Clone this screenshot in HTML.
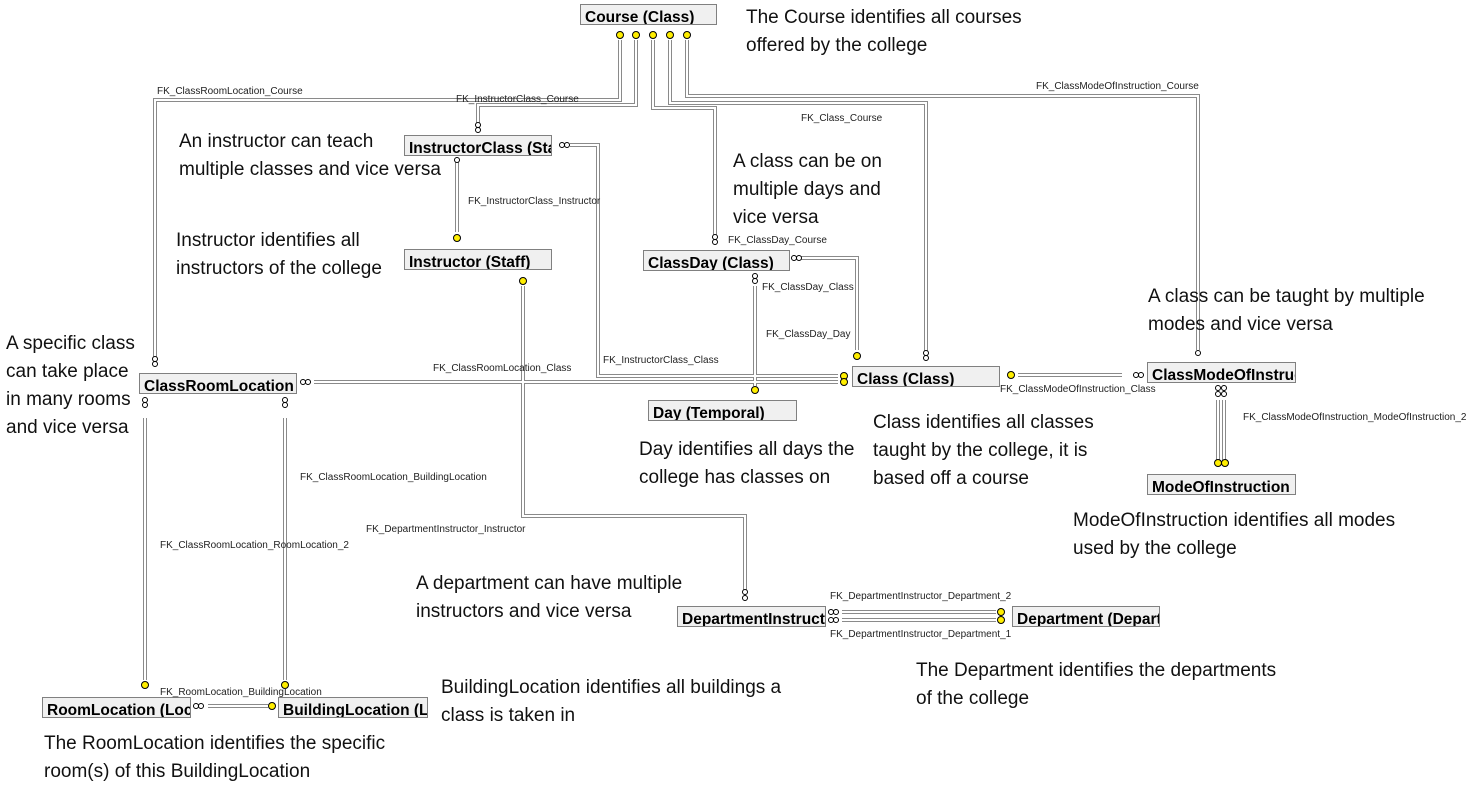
<!DOCTYPE html>
<html><head><meta charset="utf-8"><style>
body{margin:0;width:1470px;height:788px;background:#fff;overflow:hidden;position:relative;font-family:"Liberation Sans",sans-serif}
.t{position:absolute;background:#f0f0f0;border:1px solid #808080;overflow:hidden;font-weight:bold;font-size:15.5px;padding-left:4px;white-space:nowrap;box-sizing:border-box;height:21px;line-height:25px}
.a{position:absolute;font-size:19px;line-height:28px;color:#111;white-space:nowrap}
.l{position:absolute;font-size:10px;color:#222;white-space:nowrap}
svg{position:absolute;left:0;top:0}
</style></head><body>
<svg width="1470" height="788" shape-rendering="crispEdges">
<defs>
<g id="lines">
<polyline points="620,40 620,100 155,100 155,358"/>
<polyline points="636,40 636,105 478,105 478,128"/>
<polyline points="653,40 653,108 715,108 715,236"/>
<polyline points="670,40 670,103 926,103 926,352"/>
<polyline points="687,40 687,96 1198,96 1198,350"/>
<polyline points="570,145 598,145 598,376 838,376"/>
<polyline points="457,162 457,232"/>
<polyline points="523,286 523,516 745,516 745,590"/>
<polyline points="797,258 857,258 857,350"/>
<polyline points="755,286 755,386"/>
<polyline points="314,382 838,382"/>
<polyline points="1018,375 1122,375"/>
<polyline points="1218,400 1218,460"/>
<polyline points="1224,400 1224,460"/>
<polyline points="145,418 145,680"/>
<polyline points="285,418 285,680"/>
<polyline points="208,706 268,706"/>
<polyline points="842,612 996,612"/>
<polyline points="842,620 996,620"/>
</g>
</defs>
<use href="#lines" fill="none" stroke="#8a8a8a" stroke-width="4"/>
<use href="#lines" fill="none" stroke="#fff" stroke-width="2"/>
<g fill="#ffee00" stroke="#000" stroke-width="1" shape-rendering="auto">
<circle cx="620" cy="35" r="3.5"/><circle cx="636" cy="35" r="3.5"/><circle cx="653" cy="35" r="3.5"/><circle cx="670" cy="35" r="3.5"/><circle cx="687" cy="35" r="3.5"/>
<circle cx="457" cy="238" r="3.5"/><circle cx="523" cy="281" r="3.5"/><circle cx="857" cy="356" r="3.5"/>
<circle cx="844" cy="376" r="3.5"/><circle cx="844" cy="382" r="3.5"/><circle cx="755" cy="390" r="3.5"/>
<circle cx="1011" cy="375" r="3.5"/><circle cx="1218" cy="463" r="3.5"/><circle cx="1225" cy="463" r="3.5"/>
<circle cx="145" cy="685" r="3.5"/><circle cx="285" cy="685" r="3.5"/><circle cx="272" cy="706" r="3.5"/>
<circle cx="1001" cy="612" r="3.5"/><circle cx="1001" cy="620" r="3.5"/>
</g>
<g fill="#fff" stroke="#000" stroke-width="1" shape-rendering="auto">
<circle cx="478" cy="125" r="2.5"/><circle cx="478" cy="130" r="2.5"/>
<circle cx="715" cy="237" r="2.5"/><circle cx="715" cy="242" r="2.5"/>
<circle cx="926" cy="353" r="2.5"/><circle cx="926" cy="358" r="2.5"/>
<circle cx="1198" cy="353" r="2.5"/>
<circle cx="155" cy="359" r="2.5"/><circle cx="155" cy="364" r="2.5"/>
<circle cx="562" cy="145" r="2.5"/><circle cx="567" cy="145" r="2.5"/>
<circle cx="457" cy="160" r="2.5"/>
<circle cx="794" cy="258" r="2.5"/><circle cx="799" cy="258" r="2.5"/>
<circle cx="755" cy="276" r="2.5"/><circle cx="755" cy="281" r="2.5"/>
<circle cx="303" cy="382" r="2.5"/><circle cx="308" cy="382" r="2.5"/>
<circle cx="1136" cy="375" r="2.5"/><circle cx="1141" cy="375" r="2.5"/>
<circle cx="1218" cy="388" r="2.5"/><circle cx="1218" cy="394" r="2.5"/><circle cx="1224" cy="388" r="2.5"/><circle cx="1224" cy="394" r="2.5"/>
<circle cx="145" cy="400" r="2.5"/><circle cx="145" cy="405" r="2.5"/>
<circle cx="285" cy="400" r="2.5"/><circle cx="285" cy="405" r="2.5"/>
<circle cx="745" cy="592" r="2.5"/><circle cx="745" cy="598" r="2.5"/>
<circle cx="831" cy="612" r="2.5"/><circle cx="836" cy="612" r="2.5"/><circle cx="831" cy="620" r="2.5"/><circle cx="836" cy="620" r="2.5"/>
<circle cx="196" cy="706" r="2.5"/><circle cx="201" cy="706" r="2.5"/>
</g>
</svg>
<div class="t" style="left:580px;top:4px;width:137px">Course (Class)</div>
<div class="t" style="left:404px;top:135px;width:148px">InstructorClass (Staff)</div>
<div class="t" style="left:404px;top:249px;width:148px">Instructor (Staff)</div>
<div class="t" style="left:643px;top:250px;width:147px">ClassDay (Class)</div>
<div class="t" style="left:139px;top:373px;width:158px">ClassRoomLocation</div>
<div class="t" style="left:852px;top:366px;width:148px">Class (Class)</div>
<div class="t" style="left:648px;top:400px;width:149px">Day (Temporal)</div>
<div class="t" style="left:1147px;top:362px;width:149px">ClassModeOfInstruction</div>
<div class="t" style="left:1147px;top:474px;width:149px">ModeOfInstruction</div>
<div class="t" style="left:677px;top:606px;width:149px">DepartmentInstructor</div>
<div class="t" style="left:1012px;top:606px;width:148px">Department (Department)</div>
<div class="t" style="left:42px;top:697px;width:149px">RoomLocation (Location)</div>
<div class="t" style="left:278px;top:697px;width:150px">BuildingLocation (Location)</div>

<div class="l" style="left:157px;top:86px">FK_ClassRoomLocation_Course</div>
<div class="l" style="left:456px;top:94px">FK_InstructorClass_Course</div>
<div class="l" style="left:801px;top:113px">FK_Class_Course</div>
<div class="l" style="left:1036px;top:81px">FK_ClassModeOfInstruction_Course</div>
<div class="l" style="left:468px;top:196px">FK_InstructorClass_Instructor</div>
<div class="l" style="left:728px;top:235px">FK_ClassDay_Course</div>
<div class="l" style="left:762px;top:282px">FK_ClassDay_Class</div>
<div class="l" style="left:766px;top:329px">FK_ClassDay_Day</div>
<div class="l" style="left:603px;top:355px">FK_InstructorClass_Class</div>
<div class="l" style="left:433px;top:363px">FK_ClassRoomLocation_Class</div>
<div class="l" style="left:1000px;top:384px">FK_ClassModeOfInstruction_Class</div>
<div class="l" style="left:1243px;top:412px">FK_ClassModeOfInstruction_ModeOfInstruction_2</div>
<div class="l" style="left:300px;top:472px">FK_ClassRoomLocation_BuildingLocation</div>
<div class="l" style="left:366px;top:524px">FK_DepartmentInstructor_Instructor</div>
<div class="l" style="left:160px;top:540px">FK_ClassRoomLocation_RoomLocation_2</div>
<div class="l" style="left:830px;top:591px">FK_DepartmentInstructor_Department_2</div>
<div class="l" style="left:830px;top:629px">FK_DepartmentInstructor_Department_1</div>
<div class="l" style="left:160px;top:687px">FK_RoomLocation_BuildingLocation</div>

<div class="a" style="left:746px;top:4px">The Course identifies all courses<br>offered by the college</div>
<div class="a" style="left:179px;top:128px">An instructor can teach<br>multiple classes and vice versa</div>
<div class="a" style="left:176px;top:227px">Instructor identifies all<br>instructors of the college</div>
<div class="a" style="left:733px;top:148px">A class can be on<br>multiple days and<br>vice versa</div>
<div class="a" style="left:1148px;top:283px">A class can be taught by multiple<br>modes and vice versa</div>
<div class="a" style="left:6px;top:330px">A specific class<br>can take place<br>in many rooms<br>and vice versa</div>
<div class="a" style="left:639px;top:436px">Day identifies all days the<br>college has classes on</div>
<div class="a" style="left:873px;top:409px">Class identifies all classes<br>taught by the college, it is<br>based off a course</div>
<div class="a" style="left:1073px;top:507px">ModeOfInstruction identifies all modes<br>used by the college</div>
<div class="a" style="left:416px;top:570px">A department can have multiple<br>instructors and vice versa</div>
<div class="a" style="left:916px;top:657px">The Department identifies the departments<br>of the college</div>
<div class="a" style="left:441px;top:674px">BuildingLocation identifies all buildings a<br>class is taken in</div>
<div class="a" style="left:44px;top:730px">The RoomLocation identifies the specific<br>room(s) of this BuildingLocation</div>
</body></html>
